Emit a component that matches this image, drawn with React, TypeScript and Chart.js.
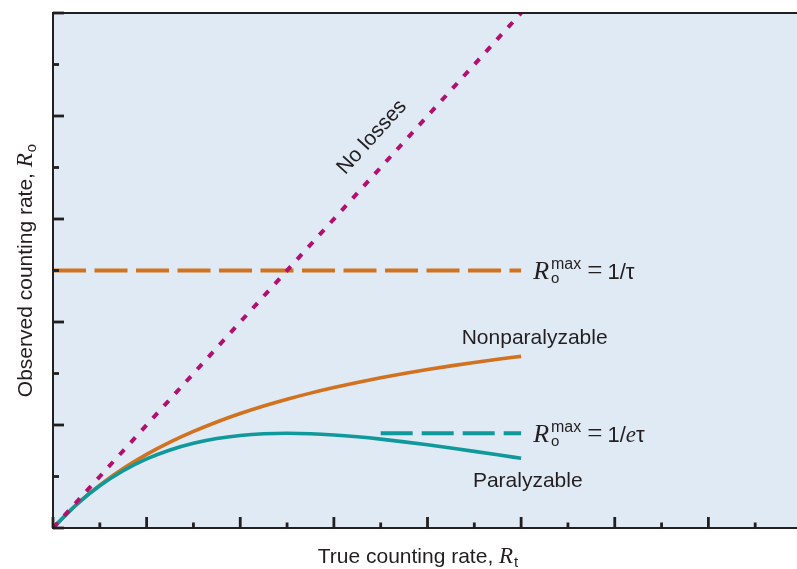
import React, { useEffect, useRef } from "react";
import { Chart, registerables } from "chart.js";

Chart.register(...registerables);

// ---- data (in units of the chart: true rate R_t vs observed rate R_o) ----
const trueRate = [0, 0.5, 1, 1.5, 2, 2.5, 3, 3.5, 4, 4.5, 5, 5.5, 6, 6.5, 7, 7.5, 8, 8.5, 9, 9.5, 10];
const nonparalyzable = [0, 0.455, 0.833, 1.154, 1.429, 1.667, 1.875, 2.059, 2.222, 2.368, 2.5, 2.619, 2.727, 2.826, 2.917, 3.0, 3.077, 3.148, 3.214, 3.276, 3.333];
const paralyzable = [0, 0.452, 0.819, 1.111, 1.341, 1.516, 1.646, 1.738, 1.797, 1.83, 1.839, 1.831, 1.807, 1.771, 1.726, 1.673, 1.615, 1.553, 1.488, 1.421, 1.353];
const noLossesX = [0, 10];
const noLossesY = [0, 10];
const maxNonparX = [0, 10];
const maxNonparY = [5, 5];
const maxParX = [7, 10];
const maxParY = [1.84, 1.84];
const xTicks = [0, 1, 2, 3, 4, 5, 6, 7, 8, 9, 10, 11, 12, 13, 14, 15, 16];
const yTicks = [0, 1, 2, 3, 4, 5, 6, 7, 8, 9, 10];

const SANS = '"Liberation Sans", Arial, Helvetica, sans-serif';
const SERIF = '"Liberation Serif", "Times New Roman", serif';
const INK = "#231f20";
const MAGENTA = "#b3106e";
const ORANGE = "#d2721f";
const TEAL = "#10999b";
const BG = "#dfeaf5";

type Run = { t: string; f: string; dy?: number; gap?: number; stack?: { t: string; f: string; dy?: number } };

function measureRuns(ctx: CanvasRenderingContext2D, runs: Run[]) {
  let w = 0;
  for (const r of runs) {
    ctx.font = r.f;
    let rw = ctx.measureText(r.t).width;
    if (r.stack) {
      ctx.font = r.stack.f;
      rw = Math.max(rw, ctx.measureText(r.stack.t).width);
    }
    w += rw + (r.gap || 0);
  }
  return w;
}

function drawRuns(ctx: CanvasRenderingContext2D, x: number, y: number, runs: Run[]) {
  let cx = x;
  for (const r of runs) {
    ctx.font = r.f;
    ctx.fillText(r.t, cx, y + (r.dy || 0));
    let rw = ctx.measureText(r.t).width;
    if (r.stack) {
      ctx.font = r.stack.f;
      ctx.fillText(r.stack.t, cx, y + (r.stack.dy || 0));
      rw = Math.max(rw, ctx.measureText(r.stack.t).width);
    }
    cx += rw + (r.gap || 0);
  }
}

const decorPlugin = {
  id: "decor",
  beforeDraw(chart: any) {
    const { ctx, chartArea: a } = chart;
    ctx.save();
    ctx.fillStyle = BG;
    ctx.fillRect(a.left, a.top, a.right - a.left, a.bottom - a.top);
    ctx.restore();
  },
  afterDraw(chart: any) {
    const { ctx, chartArea: a, scales } = chart;
    const xs = scales.x;
    const ys = scales.y;
    ctx.save();
    // axis frame
    ctx.strokeStyle = INK;
    ctx.lineWidth = 2;
    ctx.beginPath();
    ctx.moveTo(a.right, a.top);
    ctx.lineTo(a.left, a.top);
    ctx.lineTo(a.left, a.bottom);
    ctx.lineTo(a.right, a.bottom);
    ctx.stroke();
    // inward ticks
    ctx.lineWidth = 2.8;
    for (const v of xTicks) {
      const px = xs.getPixelForValue(v);
      const len = v % 2 === 0 ? 11 : 5.5;
      ctx.beginPath();
      ctx.moveTo(px, a.bottom);
      ctx.lineTo(px, a.bottom - len);
      ctx.stroke();
    }
    for (const v of yTicks) {
      const py = ys.getPixelForValue(v);
      const len = v % 2 === 0 ? 11 : 6;
      ctx.beginPath();
      ctx.moveTo(a.left, py);
      ctx.lineTo(a.left + len, py);
      ctx.stroke();
    }

    ctx.fillStyle = INK;
    ctx.textBaseline = "alphabetic";
    ctx.textAlign = "left";

    // labels for horizontal limits
    const lab1: Run[] = [
      { t: "R", f: `italic 26px ${SERIF}`, gap: 2 },
      { t: "o", f: `15px ${SANS}`, dy: 4, stack: { t: "max", f: `16px ${SANS}`, dy: -10 }, gap: 6 },
      { t: "=", f: `27px ${SERIF}`, gap: 5 },
      { t: "1/τ", f: `22px ${SANS}` },
    ];
    drawRuns(ctx, xs.getPixelForValue(maxNonparX[1]) + 12, ys.getPixelForValue(maxNonparY[1]) + 8.5, lab1);
    const lab2: Run[] = [
      { t: "R", f: `italic 26px ${SERIF}`, gap: 2 },
      { t: "o", f: `15px ${SANS}`, dy: 4, stack: { t: "max", f: `16px ${SANS}`, dy: -10 }, gap: 6 },
      { t: "=", f: `27px ${SERIF}`, gap: 5 },
      { t: "1/", f: `22px ${SANS}` },
      { t: "e", f: `italic 23px ${SERIF}` },
      { t: "τ", f: `22px ${SANS}` },
    ];
    drawRuns(ctx, xs.getPixelForValue(maxParX[1]) + 12, ys.getPixelForValue(maxParY[1]) + 8.7, lab2);

    // curve labels
    ctx.font = `21px ${SANS}`;
    ctx.fillText("Nonparalyzable", xs.getPixelForValue(8.73), ys.getPixelForValue(3.58));
    ctx.fillText("Paralyzable", xs.getPixelForValue(8.97), ys.getPixelForValue(0.79));

    // "No losses" along the diagonal
    const x0 = xs.getPixelForValue(noLossesX[0]);
    const y0 = ys.getPixelForValue(noLossesY[0]);
    const x1 = xs.getPixelForValue(noLossesX[1]);
    const y1 = ys.getPixelForValue(noLossesY[1]);
    const ang = Math.atan2(y1 - y0, x1 - x0);
    ctx.save();
    ctx.translate(xs.getPixelForValue(7.24), ys.getPixelForValue(7.24));
    ctx.rotate(ang);
    ctx.textAlign = "center";
    ctx.font = `21px ${SANS}`;
    ctx.fillText("No losses", 0, -21);
    ctx.restore();

    // axis titles
    const xt: Run[] = [
      { t: "True counting rate, ", f: `21px ${SANS}` },
      { t: "R", f: `italic 23px ${SERIF}`, gap: 1 },
      { t: "t", f: `15px ${SANS}`, dy: 4 },
    ];
    const xw = measureRuns(ctx, xt);
    drawRuns(ctx, 418 - xw / 2, 563, xt);

    const yt: Run[] = [
      { t: "Observed counting rate, ", f: `21px ${SANS}` },
      { t: "R", f: `italic 23px ${SERIF}`, gap: 1 },
      { t: "o", f: `15px ${SANS}`, dy: 4 },
    ];
    const yw = measureRuns(ctx, yt);
    ctx.save();
    ctx.translate(32, (a.top + a.bottom) / 2);
    ctx.rotate(-Math.PI / 2);
    drawRuns(ctx, -yw / 2, 0, yt);
    ctx.restore();

    ctx.restore();
  },
};

export default function App() {
  const ref = useRef<HTMLCanvasElement | null>(null);
  useEffect(() => {
    if (!ref.current) return;
    const pts = (xs: number[], ys: number[]) => xs.map((x, i) => ({ x, y: ys[i] }));
    const chart = new Chart(ref.current, {
      type: "scatter",
      data: {
        datasets: [
          {
            label: "No losses",
            data: pts(noLossesX, noLossesY),
            showLine: true,
            borderColor: MAGENTA,
            borderWidth: 4,
            borderDash: [7, 9.5],
            pointRadius: 0,
          },
          {
            label: "Paralyzable",
            data: pts(trueRate, paralyzable),
            showLine: true,
            borderColor: TEAL,
            borderWidth: 3.6,
            cubicInterpolationMode: "monotone",
            pointRadius: 0,
          },
          {
            label: "Nonparalyzable",
            data: pts(trueRate, nonparalyzable),
            showLine: true,
            borderColor: ORANGE,
            borderWidth: 3.6,
            cubicInterpolationMode: "monotone",
            pointRadius: 0,
          },
          {
            label: "1/tau",
            data: pts(maxNonparX, maxNonparY),
            showLine: true,
            borderColor: ORANGE,
            borderWidth: 4,
            borderDash: [33, 8.5],
            pointRadius: 0,
          },
          {
            label: "1/(e tau)",
            data: pts(maxParX, maxParY),
            showLine: true,
            borderColor: TEAL,
            borderWidth: 3.8,
            borderDash: [32, 9],
            pointRadius: 0,
          },
        ] as any,
      },
      options: {
        responsive: false,
        animation: false,
        devicePixelRatio: 1,
        layout: { padding: { left: 53, top: 13, right: 18, bottom: 41 } },
        plugins: { legend: { display: false }, tooltip: { enabled: false }, title: { display: false } },
        scales: {
          x: { type: "linear", min: 0, max: 16, display: false },
          y: { type: "linear", min: 0, max: 10, display: false },
        },
        elements: { line: { borderCapStyle: "butt" } },
      } as any,
      plugins: [decorPlugin],
    });
    return () => chart.destroy();
  }, []);

  return (
    <div style={{ position: "fixed", left: 0, top: 0, width: 797, height: 569, overflow: "hidden", background: "#fff" }}>
      <canvas ref={ref} width={820} height={569} style={{ width: 820, height: 569, display: "block" }} />
    </div>
  );
}
